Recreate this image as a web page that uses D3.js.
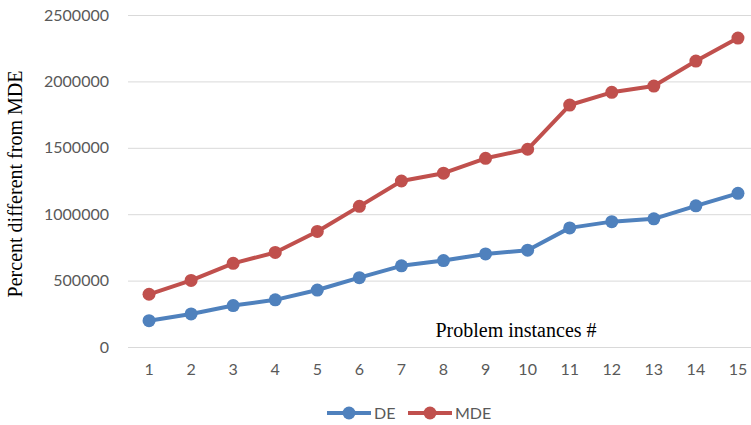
<!DOCTYPE html>
<html>
<head>
<meta charset="utf-8">
<script src="https://cdn.jsdelivr.net/npm/d3@7"></script>
<style>
  html, body { margin: 0; padding: 0; background: #fff; }
  svg { display: block; }
</style>
</head>
<body>
<svg id="chart" width="751" height="425"></svg>
<script>
// Problem instances and the two series
const categories = ["1","2","3","4","5","6","7","8","9","10","11","12","13","14","15"];
const deValues  = [198000, 249000, 312000, 355000, 429000, 522000, 611000, 651000, 701000, 729000, 897000, 944000, 965000, 1063000, 1157000];
const mdeValues = [397000, 501000, 630000, 712000, 870000, 1059000, 1250000, 1309000, 1421000, 1489000, 1822000, 1918000, 1965000, 2153000, 2326000];
const yTicks = [0, 500000, 1000000, 1500000, 2000000, 2500000];
const seriesNames = ["DE", "MDE"];
const seriesColors = ["#4F81BD", "#C0504D"];

const svg = d3.select("#chart");
const plotLeft = 128, plotRight = 759, plotTop = 15, plotBottom = 347;

const x = d3.scaleBand().domain(categories).range([plotLeft, plotRight]);
const y = d3.scaleLinear().domain([0, 2500000]).range([plotBottom, plotTop]);
const cx = d => x(d) + x.bandwidth() / 2;

// horizontal gridlines (the zero line doubles as the axis)
svg.append("g")
  .attr("transform", `translate(${plotLeft},0)`)
  .call(d3.axisLeft(y).tickValues(yTicks).tickSize(-(plotRight - plotLeft)).tickFormat(""))
  .call(g => g.select(".domain").remove())
  .call(g => g.selectAll(".tick line").attr("stroke", "#d9d9d9").attr("stroke-width", 1));

// y tick labels
svg.append("g")
  .attr("transform", `translate(${plotLeft - 19},0)`)
  .call(d3.axisLeft(y).tickValues(yTicks).tickSize(0).tickPadding(0).tickFormat(d3.format("d")))
  .call(g => g.select(".domain").remove())
  .call(g => g.selectAll("text")
    .attr("fill", "#595959")
    .attr("font-family", "Lato, 'Open Sans', sans-serif")
    .attr("font-size", 16));

// x tick labels
svg.append("g")
  .attr("transform", `translate(0,${plotBottom + 17})`)
  .call(d3.axisBottom(x).tickSize(0).tickPadding(0))
  .call(g => g.select(".domain").remove())
  .call(g => g.selectAll("text")
    .attr("fill", "#595959")
    .attr("font-family", "Lato, 'Open Sans', sans-serif")
    .attr("font-size", 16));

// axis titles
svg.append("text")
  .attr("x", 516).attr("y", 337)
  .attr("text-anchor", "middle")
  .attr("font-family", "'Liberation Serif', 'Times New Roman', serif")
  .attr("font-size", 20)
  .attr("fill", "#000")
  .text("Problem instances #");

svg.append("text")
  .attr("transform", "translate(22,184) rotate(-90)")
  .attr("text-anchor", "middle")
  .attr("font-family", "'Liberation Serif', 'Times New Roman', serif")
  .attr("font-size", 20)
  .attr("fill", "#000")
  .text("Percent different from MDE");

// series lines and markers
const allSeries = [deValues, mdeValues];
const line = d3.line().x((d, i) => cx(categories[i])).y(d => y(d));

allSeries.forEach((vals, s) => {
  const g = svg.append("g");
  g.append("path")
    .datum(vals)
    .attr("d", line)
    .attr("fill", "none")
    .attr("stroke", seriesColors[s])
    .attr("stroke-width", 4)
    .attr("stroke-linejoin", "round");
  g.selectAll("circle")
    .data(vals)
    .join("circle")
    .attr("cx", (d, i) => cx(categories[i]))
    .attr("cy", d => y(d))
    .attr("r", 6.5)
    .attr("fill", seriesColors[s]);
});

// legend
const legendItems = [
  { x0: 327, x1: 371, tx: 374 },
  { x0: 408, x1: 452, tx: 455 }
];
const ly = 413;
legendItems.forEach((it, s) => {
  const g = svg.append("g");
  g.append("line")
    .attr("x1", it.x0).attr("x2", it.x1).attr("y1", ly).attr("y2", ly)
    .attr("stroke", seriesColors[s]).attr("stroke-width", 4);
  g.append("circle")
    .attr("cx", (it.x0 + it.x1) / 2).attr("cy", ly).attr("r", 6.5)
    .attr("fill", seriesColors[s]);
  g.append("text")
    .attr("x", it.tx).attr("y", ly).attr("dy", "0.35em")
    .attr("font-family", "Lato, 'Open Sans', sans-serif")
    .attr("font-size", 16)
    .attr("fill", "#595959")
    .text(seriesNames[s]);
});
</script>
</body>
</html>
